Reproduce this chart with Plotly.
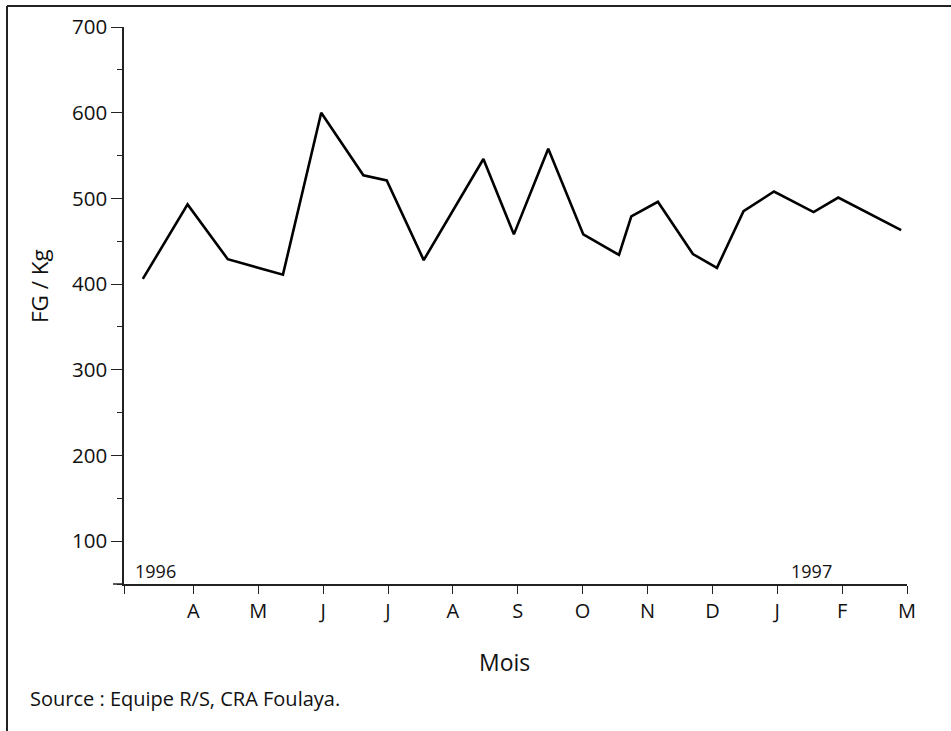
import plotly.graph_objects as go

# Data (x in month units: 1 = April 1996 tick, 12 = March 1997 tick)
month_pos = [1.0, 2.0, 3.0, 4.0, 5.0, 6.0, 7.0, 8.0, 9.0, 10.0, 11.0, 12.0]
month_labels = ["A", "M", "J", "J", "A", "S", "O", "N", "D", "J", "F", "M"]
x_vals = [0.22, 0.91, 1.53, 2.38, 2.97, 3.62, 3.98, 4.55, 5.47, 5.94, 6.47,
          7.01, 7.56, 7.75, 8.16, 8.70, 9.07, 9.48, 9.95, 10.56, 10.94, 11.91]
y_vals = [406, 493, 429, 411, 600, 527, 521, 428, 546, 458, 558,
          458, 434, 479, 496, 435, 419, 485, 508, 484, 501, 463]
x_start = -0.07
y_range = [50, 700]

W, H = 951, 731
L, R, T, B = 124, 44, 25, 147
pw, ph = W - L - R, H - T - B


def px(x):
    return (x - L) / pw


def py(y):
    return (H - B - y) / ph


FONT = "Open Sans"

fig = go.Figure()
fig.add_trace(go.Scatter(x=x_vals, y=y_vals, mode="lines",
                         line=dict(color="black", width=2.6), hoverinfo="skip"))

fig.update_layout(
    width=W, height=H,
    margin=dict(l=L, r=R, t=T, b=B),
    paper_bgcolor="white", plot_bgcolor="white",
    showlegend=False,
    font=dict(family=FONT, color="#111"),
    xaxis=dict(range=[x_start, 12], showgrid=False, zeroline=False,
               showline=True, linecolor="#222", linewidth=1.5,
               tickmode="array", tickvals=[x_start] + month_pos,
               ticktext=[""] + month_labels,
               ticks="outside", ticklen=8, tickwidth=1.3, tickcolor="#222",
               tickfont=dict(family=FONT, size=20, color="#111")),
    yaxis=dict(range=y_range, showgrid=False, zeroline=False,
               showline=True, linecolor="#222", linewidth=1.5,
               tickmode="array", tickvals=[100, 200, 300, 400, 500, 600, 700],
               ticks="outside", ticklen=11, tickwidth=1.3, tickcolor="#222",
               tickfont=dict(family=FONT, size=20.5, color="#111"),
               minor=dict(tickvals=[50, 150, 250, 350, 450, 550, 650],
                          ticks="outside", ticklen=5, tickwidth=1.3,
                          tickcolor="#222")),
)

# frame lines (top and left) and x-axis extension
fig.add_shape(type="line", xref="paper", yref="paper",
              x0=px(7), x1=px(W + 5), y0=py(4), y1=py(4),
              line=dict(color="#222", width=2))
fig.add_shape(type="line", xref="paper", yref="paper",
              x0=px(7), x1=px(7), y0=py(4), y1=py(H + 5),
              line=dict(color="#222", width=2))
fig.add_shape(type="line", xref="paper", yref="paper",
              x0=px(113), x1=px(124), y0=0, y1=0,
              line=dict(color="#222", width=1.5))

ann = [
    dict(text="FG / Kg", x=px(39), y=py(285), textangle=-90, size=22.5),
    dict(text="Mois", x=px(504), y=py(662), textangle=0, size=23),
    dict(text="1996", x=px(155), y=py(571), textangle=0, size=18),
    dict(text="1997", x=px(811), y=py(571), textangle=0, size=18),
]
for a in ann:
    fig.add_annotation(text=a["text"], x=a["x"], y=a["y"], xref="paper",
                       yref="paper", showarrow=False, textangle=a["textangle"],
                       xanchor="center", yanchor="middle",
                       font=dict(family=FONT, size=a["size"], color="#111"))
fig.add_annotation(text="Source : Equipe R/S, CRA Foulaya.", x=px(28),
                   y=py(699), xref="paper", yref="paper", showarrow=False,
                   xanchor="left", yanchor="middle",
                   font=dict(family=FONT, size=20, color="#111"))

fig.write_html("out.html",
               config={"displayModeBar": False},
               post_script="document.body.style.margin='0';"
                           "document.body.style.overflow='hidden';")
